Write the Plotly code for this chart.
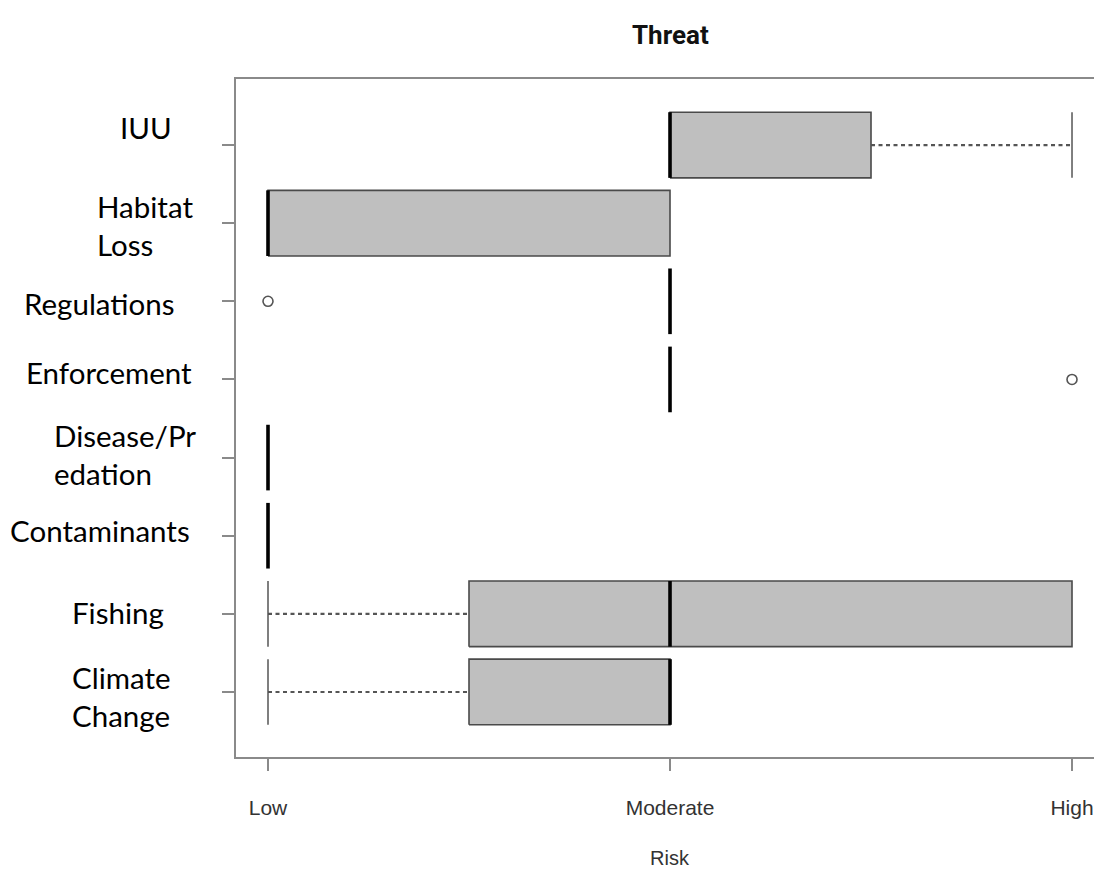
import plotly.graph_objects as go

# ---- data (top to bottom as in the chart) ----
categories = ["IUU", "Habitat Loss", "Regulations", "Enforcement",
              "Disease/Predation", "Contaminants", "Fishing", "Climate Change"]
label_text = ["IUU", "Habitat<br>Loss", "Regulations", "Enforcement",
              "Disease/Pr<br>edation", "Contaminants", "Fishing", "Climate<br>Change"]
lower_whisker = [2, 1, 2, 2, 1, 1, 1, 1]
q1 = [2, 1, 2, 2, 1, 1, 1.5, 1.5]
median = [2, 1, 2, 2, 1, 1, 2, 2]
q3 = [2.5, 2, 2, 2, 1, 1, 3, 2]
upper_whisker = [3, 2, 2, 2, 1, 1, 3, 2]
outlier_cat = ["Regulations", "Enforcement"]
outlier_val = [1, 3]
risk_values = [1, 2, 3]
risk_labels = ["Low", "Moderate", "High"]

# ---- layout constants ----
OFF = 8                      # page body margin
W, H = 1102 - OFF, 872 - OFF
L, R, T = 236 - OFF, 0, 79 - OFF
B = H - (757 - OFF)
PW, PH = W - L - R, H - T - B
HALF = 0.42
BOX_LINE = "#4a4a4a"
BOX_FILL = "#bfbfbf"
FRAME = "#8a8a8a"


def px_x(px):
    return (px - OFF - L) / PW


def px_y(py):
    return (H - B - (py - OFF)) / PH


n = len(categories)
pos = {c: n - i for i, c in enumerate(categories)}  # IUU at top

fig = go.Figure()

for i, c in enumerate(categories):
    y = pos[c]
    if q3[i] > q1[i]:
        fig.add_trace(go.Scatter(
            x=[q1[i], q3[i], q3[i], q1[i], q1[i]],
            y=[y - HALF, y - HALF, y + HALF, y + HALF, y - HALF],
            mode="lines", fill="toself", fillcolor=BOX_FILL,
            line=dict(color=BOX_LINE, width=1.6), hoverinfo="skip", showlegend=False))
    for a, b in ((lower_whisker[i], q1[i]), (q3[i], upper_whisker[i])):
        if a != b:
            fig.add_trace(go.Scatter(
                x=[a, b], y=[y, y], mode="lines",
                line=dict(color="#555555", width=2.2, dash="4px,3.5px"),
                hoverinfo="skip", showlegend=False))
    for end, inner in ((lower_whisker[i], q1[i]), (upper_whisker[i], q3[i])):
        if end != inner:
            fig.add_trace(go.Scatter(
                x=[end, end], y=[y - HALF, y + HALF], mode="lines",
                line=dict(color="#555555", width=1.5),
                hoverinfo="skip", showlegend=False))
    fig.add_trace(go.Scatter(
        x=[median[i], median[i]], y=[y - HALF, y + HALF], mode="lines",
        line=dict(color="black", width=3.6), hoverinfo="skip", showlegend=False))

fig.add_trace(go.Scatter(
    x=outlier_val, y=[pos[c] for c in outlier_cat], mode="markers",
    marker=dict(symbol="circle-open", size=10, color="#555555", line=dict(width=1.6)),
    hoverinfo="skip", showlegend=False))

# category labels (hand placed as in the reference), page pixel positions
label_px = [(118, 128), (95, 225), (22, 303), (24, 372),
            (52, 454), (8, 530), (70, 612), (70, 696)]
annotations = []
for txt, (px, py) in zip(label_text, label_px):
    annotations.append(dict(
        text=txt, xref="paper", yref="paper", x=px_x(px), y=px_y(py),
        xanchor="left", yanchor="middle", align="left", showarrow=False,
        font=dict(family="Lato, Carlito, Calibri, sans-serif", size=29.5, color="black")))

annotations.append(dict(
    text="<b>Threat</b>", xref="paper", yref="paper",
    x=px_x(670), y=px_y(35), xanchor="center", yanchor="middle",
    showarrow=False, font=dict(family="Roboto, Liberation Sans, Arial", size=26, color="#111")))
annotations.append(dict(
    text="Risk", xref="paper", yref="paper",
    x=px_x(670), y=px_y(858), xanchor="center", yanchor="middle",
    showarrow=False, font=dict(family="Liberation Sans, Arial", size=20, color="#333")))

fig.update_layout(
    width=W, height=H,
    margin=dict(l=L, r=R, t=T, b=B, pad=0),
    paper_bgcolor="white", plot_bgcolor="white",
    annotations=annotations,
    showlegend=False,
    xaxis=dict(
        range=[0.9204, 3.0746], tickvals=risk_values, ticktext=risk_labels,
        ticks="outside", ticklen=12, tickwidth=1.5, tickcolor=FRAME,
        showline=True, mirror=True, linecolor=FRAME, linewidth=1.8,
        showgrid=False, zeroline=False, ticklabelstandoff=19,
        tickfont=dict(family="Liberation Sans, Arial", size=21, color="#333")),
    yaxis=dict(
        range=[0.168, 8.845], tickvals=list(range(1, n + 1)),
        ticks="outside", ticklen=12, tickwidth=1.5, tickcolor=FRAME,
        showticklabels=False,
        showline=True, mirror=False, linecolor=FRAME, linewidth=1.8,
        showgrid=False, zeroline=False),
)

fig.write_html("out.html")
